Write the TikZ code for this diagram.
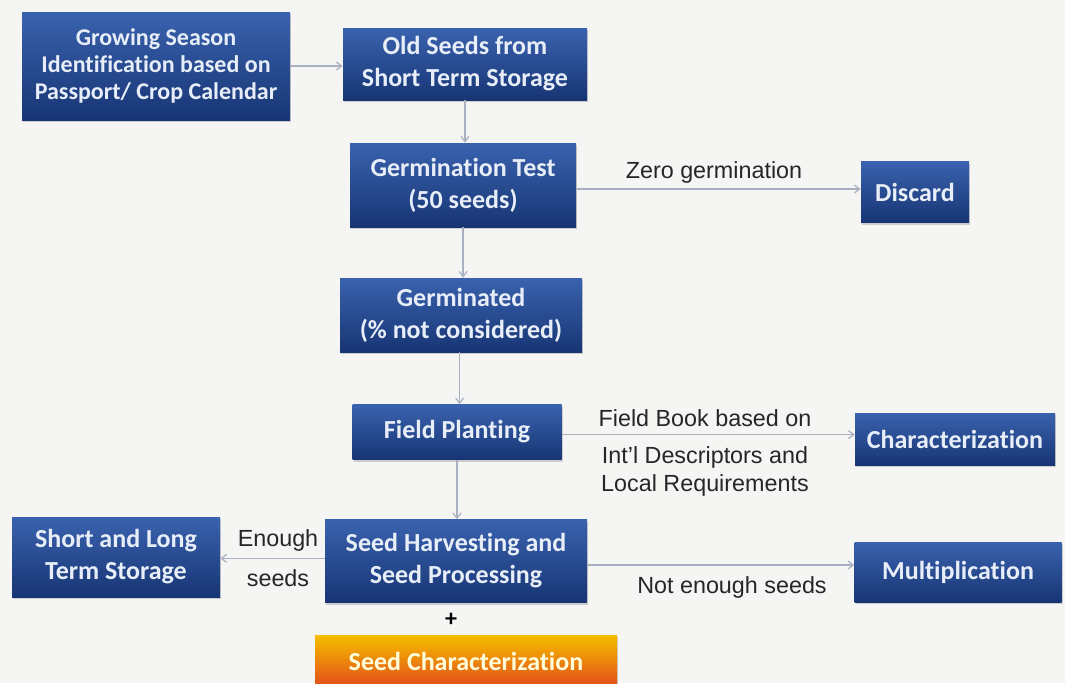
\documentclass[tikz,border=0pt]{standalone}
\usepackage{fontspec}
\setmainfont{Carlito}[Ligatures=NoCommon]
\newfontfamily\labelfont{Liberation Sans}
\usepackage{tikz}
\usetikzlibrary{arrows.meta,shadows}

\definecolor{boxtop}{HTML}{3A62AE}
\definecolor{boxmid}{HTML}{1E408C}
\definecolor{boxbot}{HTML}{173574}
\definecolor{boxtext}{HTML}{E8EEF8}
\definecolor{orangetop}{HTML}{F5BE00}
\definecolor{orangemid}{HTML}{F0661E}
\definecolor{orangebot}{HTML}{E24C1A}
\definecolor{arrowgray}{HTML}{A9B1C1}
\definecolor{paper}{HTML}{F5F5F4}

\tikzset{
  box/.style={rectangle, top color=boxtop, middle color=boxmid, bottom color=boxbot,
    text=boxtext, align=center, inner sep=2pt,
    font=\bfseries\fontsize{19.5}{24}\selectfont,
    drop shadow={opacity=0.35, shadow xshift=1pt, shadow yshift=-1.5pt}},
  flowlabel/.style={font=\labelfont\fontsize{17.5}{21}\selectfont, text=black!85, inner sep=1pt},
  arr/.style={draw=arrowgray, line width=0.9pt, -{Straight Barb[length=4pt,width=6pt]}}
}

\begin{document}
\begin{tikzpicture}[x=0.75pt,y=-0.75pt]
  \clip (0,0) rectangle (1065,683);
  \fill[paper] (0,0) rectangle (1065,683);
  % main column
  \node[box, minimum width=201pt, minimum height=81pt,
    font=\bfseries\fontsize{18}{20.5}\selectfont] (grow) at (156,66)
    {Growing Season\\Identification based on\\Passport/ Crop Calendar};
  \node[box, minimum width=183pt, minimum height=54pt] (old) at (465,64)
    {Old Seeds from\\Short Term Storage};
  \node[box, minimum width=169.5pt, minimum height=63pt] (test) at (463,185)
    {Germination Test\\(50 seeds)};
  \node[box, minimum width=181.5pt, minimum height=55.5pt] (germ) at (461,315)
    {Germinated\\(\% not considered)};
  \node[box, minimum width=156.75pt, minimum height=41.25pt] (plant) at (457,432)
    {Field Planting};
  \node[box, minimum width=196.5pt, minimum height=62.25pt] (harvest) at (456,561)
    {Seed Harvesting and\\Seed Processing};
  \node[font=\bfseries\fontsize{18}{20}\selectfont] (plus) at (451,620) {+};
  \node[box, minimum width=226.5pt, minimum height=39pt,
    top color=orangetop, middle color=orangemid, bottom color=orangebot,
    text=yellow!15] (seedchar) at (466,661) {Seed Characterization};
  % side boxes
  \node[box, minimum width=81pt, minimum height=45.75pt] (discard) at (915,192) {Discard};
  \node[box, minimum width=150pt, minimum height=39pt] (charac) at (955,439) {Characterization};
  \node[box, minimum width=156pt, minimum height=60pt] (store) at (116,557)
    {Short and Long\\Term Storage};
  \node[box, minimum width=155.25pt, minimum height=45pt] (multi) at (958,572) {Multiplication};
  % connectors
  \draw[arr] (grow.east) -- (grow.east -| old.west);
  \draw[arr] (old.south) -- (old.south |- test.north);
  \draw[arr] ([yshift=-3pt]test.east) -- ([yshift=-3pt]test.east -| discard.west);
  \draw[arr] (test.south) -- (test.south |- germ.north);
  \draw[arr] ([xshift=-1pt]germ.south) -- ([xshift=-1pt]germ.south |- plant.north);
  \draw[arr] ([yshift=-2pt]plant.east) -- ([yshift=-2pt]plant.east -| charac.west);
  \draw[arr] (plant.south) -- (plant.south |- harvest.north);
  \draw[arr] ([yshift=2pt]harvest.west) -- ([yshift=2pt]harvest.west -| store.east);
  \draw[arr] ([yshift=-3pt]harvest.east) -- ([yshift=-3pt]harvest.east -| multi.west);
  % connector labels
  \node[flowlabel] (lblzero) at (714,172) {Zero germination};
  \node[flowlabel] (lblbook) at (705,418) {Field Book based on};
  \node[flowlabel, align=center] (lbldesc) at (705,471)
    {Int’l Descriptors and\\Local Requirements};
  \node[flowlabel] (lblenough) at (278,540) {Enough};
  \node[flowlabel] (lblseeds) at (278,578) {seeds};
  \node[flowlabel] (lblnot) at (732,587) {Not enough seeds};
\end{tikzpicture}
\end{document}
